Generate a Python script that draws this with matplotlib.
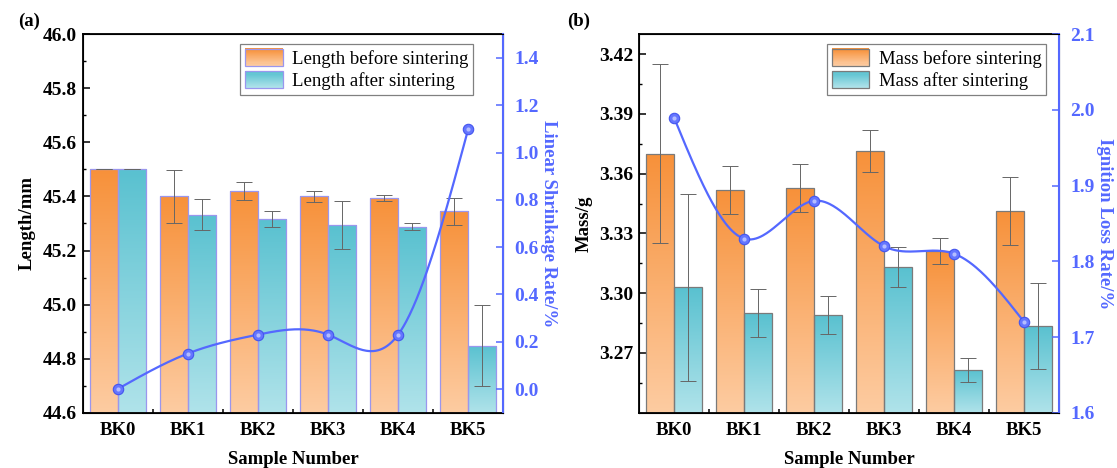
import numpy as np
import matplotlib.pyplot as plt
from matplotlib.colors import LinearSegmentedColormap, to_rgb
from matplotlib.legend_handler import HandlerBase
from matplotlib.patches import Rectangle
from matplotlib.ticker import MultipleLocator, FixedLocator

plt.rcParams['font.family'] = ['Liberation Serif', 'DejaVu Serif']
plt.rcParams['mathtext.fontset'] = 'stix'

samples = ['BK0', 'BK1', 'BK2', 'BK3', 'BK4', 'BK5']

# (a) specimen length, mm
len_before = [45.50, 45.40, 45.42, 45.40, 45.395, 45.345]
len_before_err = [0.0, 0.097, 0.034, 0.020, 0.012, 0.049]
len_after = [45.50, 45.333, 45.316, 45.295, 45.288, 44.848]
len_after_err = [0.0, 0.058, 0.029, 0.090, 0.012, 0.150]
shrinkage = [0.0, 0.15, 0.23, 0.23, 0.23, 1.10]

# (b) specimen mass, g
mass_before = [3.370, 3.352, 3.3527, 3.3712, 3.3213, 3.3411]
mass_before_err = [0.045, 0.012, 0.012, 0.0105, 0.0065, 0.017]
mass_after = [3.303, 3.290, 3.289, 3.3133, 3.2616, 3.2835]
mass_after_err = [0.047, 0.012, 0.0096, 0.010, 0.006, 0.0217]
ignition_loss = [1.99, 1.83, 1.88, 1.82, 1.81, 1.72]

ORANGE_TOP, ORANGE_BOT = '#F7913A', '#FDCCA2'
TEAL_TOP, TEAL_BOT = '#59C1D0', '#B0E3EA'
BLUE = '#5468FF'


def natural_spline(x, y, n=300):
    x = np.asarray(x, float)
    y = np.asarray(y, float)
    m = len(x)
    h = np.diff(x)
    A = np.zeros((m, m))
    r = np.zeros(m)
    A[0, 0] = A[-1, -1] = 1.0
    for i in range(1, m - 1):
        A[i, i - 1] = h[i - 1]
        A[i, i] = 2 * (h[i - 1] + h[i])
        A[i, i + 1] = h[i]
        r[i] = 3 * ((y[i + 1] - y[i]) / h[i] - (y[i] - y[i - 1]) / h[i - 1])
    c = np.linalg.solve(A, r)
    xs = np.linspace(x[0], x[-1], n)
    idx = np.clip(np.searchsorted(x, xs) - 1, 0, m - 2)
    dx = xs - x[idx]
    b = (y[idx + 1] - y[idx]) / h[idx] - h[idx] * (2 * c[idx] + c[idx + 1]) / 3
    d = (c[idx + 1] - c[idx]) / (3 * h[idx])
    return xs, y[idx] + b * dx + c[idx] * dx ** 2 + d * dx ** 3


def gradient_bars(ax, x, vals, errs, base, top, bot, edge):
    cmap = LinearSegmentedColormap.from_list('g', [bot, top])
    grad = np.linspace(0, 1, 256).reshape(-1, 1)
    bars = ax.bar(x, np.array(vals) - base, 0.4, bottom=base, facecolor='none',
                  edgecolor=edge, linewidth=0.9, zorder=2)
    for b in bars:
        x0, y0 = b.get_x(), b.get_y()
        im = ax.imshow(grad, cmap=cmap, origin='lower', aspect='auto', zorder=1,
                       extent=[x0, x0 + b.get_width(), y0, y0 + b.get_height()])
        im.set_clip_path(b)
    ax.errorbar(x, vals, yerr=errs, fmt='none', ecolor='#666666', elinewidth=0.7,
                capsize=6, capthick=0.7, zorder=3)
    return bars


class GradHandler(HandlerBase):
    def __init__(self, top, bot, edge):
        super().__init__()
        self.top, self.bot, self.edge = to_rgb(top), to_rgb(bot), edge

    def create_artists(self, legend, orig_handle, xdescent, ydescent, width, height,
                       fontsize, trans):
        n = 16
        arts = []
        for k in range(n):
            f = k / (n - 1)
            col = tuple(self.bot[j] + (self.top[j] - self.bot[j]) * f for j in range(3))
            arts.append(Rectangle((-xdescent, -ydescent + height * k / n), width,
                                  height / n + 0.3, facecolor=col, edgecolor='none',
                                  transform=trans))
        arts.append(Rectangle((-xdescent, -ydescent), width, height, facecolor='none',
                              edgecolor=self.edge, linewidth=0.9, transform=trans))
        return arts


def style_axes(ax, ax2, ylabel, y2label):
    for s in ['left', 'bottom', 'top']:
        ax.spines[s].set_linewidth(1.3)
    ax2.spines['right'].set_color(BLUE)
    ax2.spines['right'].set_linewidth(1.5)
    ax.tick_params(axis='y', which='major', direction='in', length=5, width=1.1,
                   labelsize=14, pad=4)
    ax.tick_params(axis='y', which='minor', direction='in', length=2.5, width=1.0)
    ax.tick_params(axis='x', which='major', length=0, labelsize=13.5, pad=7)
    ax.tick_params(axis='x', which='minor', direction='in', length=3, width=1.1)
    ax.xaxis.set_minor_locator(FixedLocator(np.arange(0.5, 5, 1.0)))
    ax2.tick_params(axis='y', which='major', direction='in', length=5, width=1.1,
                    labelsize=14, colors=BLUE, pad=8)
    for lab in ax.get_xticklabels() + ax.get_yticklabels() + ax2.get_yticklabels():
        lab.set_fontweight('bold')
    ax.set_xlabel('Sample Number', fontsize=13.5, fontweight='bold', labelpad=8)
    ax.set_ylabel(ylabel, fontsize=13.5, fontweight='bold', labelpad=5)
    ax2.set_ylabel(y2label, fontsize=13.5, fontweight='bold', color=BLUE,
                   rotation=270, labelpad=13)


def spline_line(ax2, x, vals):
    xs, ys = natural_spline(x, vals)
    ax2.plot(xs, ys, color=BLUE, linewidth=1.6, zorder=4)
    ax2.plot(x, vals, 'o', markersize=7.5, markerfacecolor='#6576FF',
             markeredgecolor='#4455EE', markeredgewidth=0.8, zorder=5)
    ax2.plot(x, vals, 'o', markersize=3, markerfacecolor='#C9D0FF',
             markeredgecolor='none', alpha=0.8, zorder=6)


fig = plt.figure(figsize=(11.17, 4.68), dpi=100)
x = np.arange(len(samples))

# ---- (a) length / linear shrinkage
axa = fig.add_axes([0.0739, 0.1182, 0.3767, 0.8085])
axa2 = axa.twinx()
bars_b = gradient_bars(axa, x - 0.2, len_before, len_before_err, 44.6,
                       ORANGE_TOP, ORANGE_BOT, '#9A96EE')
bars_a = gradient_bars(axa, x + 0.2, len_after, len_after_err, 44.6,
                       TEAL_TOP, TEAL_BOT, '#9A96EE')
axa.set_xlim(-0.5, 5.5)
axa.set_ylim(44.6, 46.0)
axa.yaxis.set_major_locator(MultipleLocator(0.2))
axa.yaxis.set_minor_locator(MultipleLocator(0.1))
axa.set_xticks(x)
axa.set_xticklabels(samples)
spline_line(axa2, x, shrinkage)
axa2.set_ylim(-0.1, 1.5)
axa2.set_yticks(np.arange(0, 1.41, 0.2))
axa2.yaxis.set_major_formatter(plt.FormatStrFormatter('%.1f'))
axa.yaxis.set_major_formatter(plt.FormatStrFormatter('%.1f'))
style_axes(axa, axa2, 'Length/mm', 'Linear Shrinkage Rate/%')
leg = axa2.legend([bars_b, bars_a], ['Length before sintering', 'Length after sintering'],
                  handler_map={bars_b: GradHandler(ORANGE_TOP, ORANGE_BOT, '#9A96EE'),
                               bars_a: GradHandler(TEAL_TOP, TEAL_BOT, '#9A96EE')},
                  loc='upper right', bbox_to_anchor=(0.928, 0.974), fontsize=13.5,
                  fancybox=False, edgecolor='#808080', framealpha=1, borderpad=0.25,
                  handlelength=2.0, handleheight=1.0, handletextpad=0.5,
                  labelspacing=0.2, borderaxespad=0)
leg.get_frame().set_linewidth(0.9)

# ---- (b) mass / ignition loss
axb = fig.add_axes([0.5721, 0.1182, 0.3760, 0.8085])
axb2 = axb.twinx()
bars_mb = gradient_bars(axb, x - 0.2, mass_before, mass_before_err, 3.24,
                        ORANGE_TOP, ORANGE_BOT, '#7A7A7A')
bars_ma = gradient_bars(axb, x + 0.2, mass_after, mass_after_err, 3.24,
                        TEAL_TOP, TEAL_BOT, '#7A7A7A')
axb.set_xlim(-0.5, 5.5)
axb.set_ylim(3.24, 3.43)
axb.set_yticks([3.27, 3.30, 3.33, 3.36, 3.39, 3.42])
axb.yaxis.set_minor_locator(FixedLocator(np.arange(3.255, 3.43, 0.03)))
axb.yaxis.set_major_formatter(plt.FormatStrFormatter('%.2f'))
axb.set_xticks(x)
axb.set_xticklabels(samples)
spline_line(axb2, x, ignition_loss)
axb2.set_ylim(1.6, 2.1)
axb2.set_yticks(np.arange(1.6, 2.11, 0.1))
axb2.yaxis.set_major_formatter(plt.FormatStrFormatter('%.1f'))
style_axes(axb, axb2, 'Mass/g', 'Ignition Loss Rate/%')
leg = axb2.legend([bars_mb, bars_ma], ['Mass before sintering', 'Mass after sintering'],
                  handler_map={bars_mb: GradHandler(ORANGE_TOP, ORANGE_BOT, '#7A7A7A'),
                               bars_ma: GradHandler(TEAL_TOP, TEAL_BOT, '#7A7A7A')},
                  loc='upper right', bbox_to_anchor=(0.969, 0.974), fontsize=13.5,
                  fancybox=False, edgecolor='#808080', framealpha=1, borderpad=0.25,
                  handlelength=2.0, handleheight=1.0, handletextpad=0.5,
                  labelspacing=0.2, borderaxespad=0)
leg.get_frame().set_linewidth(0.9)

fig.text(0.016, 0.955, '(a)', fontsize=13.5, fontweight='bold', va='center')
fig.text(0.508, 0.955, '(b)', fontsize=13.5, fontweight='bold', va='center')

fig.savefig('out.png', dpi=100)
